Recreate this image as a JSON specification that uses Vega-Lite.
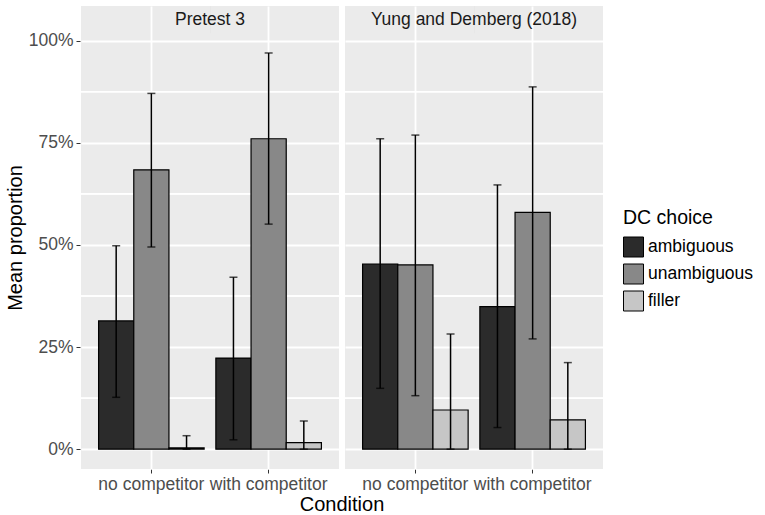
{
  "$schema": "https://vega.github.io/schema/vega-lite/v6.json",
  "description": "Mean proportion of DC choices by condition, Pretest 3 vs Yung and Demberg (2018).",
  "data": {
    "values": [
      {"study": "Pretest 3", "condition": "no competitor", "dc": "ambiguous", "mean": 0.314, "lower": 0.127, "upper": 0.498},
      {"study": "Pretest 3", "condition": "no competitor", "dc": "unambiguous", "mean": 0.684, "lower": 0.495, "upper": 0.871},
      {"study": "Pretest 3", "condition": "no competitor", "dc": "filler", "mean": 0.003, "lower": 0.0, "upper": 0.033},
      {"study": "Pretest 3", "condition": "with competitor", "dc": "ambiguous", "mean": 0.223, "lower": 0.023, "upper": 0.421},
      {"study": "Pretest 3", "condition": "with competitor", "dc": "unambiguous", "mean": 0.760, "lower": 0.551, "upper": 0.970},
      {"study": "Pretest 3", "condition": "with competitor", "dc": "filler", "mean": 0.016, "lower": 0.0, "upper": 0.069},
      {"study": "Yung and Demberg (2018)", "condition": "no competitor", "dc": "ambiguous", "mean": 0.453, "lower": 0.149, "upper": 0.760},
      {"study": "Yung and Demberg (2018)", "condition": "no competitor", "dc": "unambiguous", "mean": 0.451, "lower": 0.131, "upper": 0.769},
      {"study": "Yung and Demberg (2018)", "condition": "no competitor", "dc": "filler", "mean": 0.096, "lower": 0.0, "upper": 0.282},
      {"study": "Yung and Demberg (2018)", "condition": "with competitor", "dc": "ambiguous", "mean": 0.349, "lower": 0.053, "upper": 0.647},
      {"study": "Yung and Demberg (2018)", "condition": "with competitor", "dc": "unambiguous", "mean": 0.580, "lower": 0.270, "upper": 0.887},
      {"study": "Yung and Demberg (2018)", "condition": "with competitor", "dc": "filler", "mean": 0.072, "lower": 0.0, "upper": 0.212}
    ]
  },
  "padding": {"left": 5, "top": 6, "right": 5, "bottom": 0},
  "facet": {
    "column": {
      "field": "study",
      "type": "nominal",
      "sort": ["Pretest 3", "Yung and Demberg (2018)"],
      "header": {
        "title": "Condition",
        "titleOrient": "bottom",
        "titleFontSize": 20,
        "titleFontWeight": "normal",
        "titleColor": "#000000",
        "titlePadding": -8,
        "labels": false
      }
    }
  },
  "spacing": 4,
  "spec": {
    "width": 258,
    "height": 463,
    "encoding": {
      "x": {
        "field": "condition",
        "type": "nominal",
        "sort": ["no competitor", "with competitor"],
        "scale": {"paddingInner": 0.1, "paddingOuter": 0.15},
        "axis": {
          "title": null,
          "labelAngle": 0,
          "labelFontSize": 17.5,
          "labelColor": "#4d4d4d",
          "labelPadding": 2,
          "bandPosition": 0.5,
          "grid": true,
          "gridColor": "#ffffff",
          "gridWidth": 1.8,
          "domain": false,
          "tickColor": "#333333",
          "tickSize": 4,
          "tickWidth": 1
        }
      },
      "xOffset": {
        "field": "dc",
        "type": "nominal",
        "sort": ["ambiguous", "unambiguous", "filler"],
        "scale": {"paddingInner": 0, "paddingOuter": 0}
      }
    },
    "layer": [
      {"mark": {"type": "rule", "color": "#ffffff", "strokeWidth": 0.9}, "encoding": {"x": null, "xOffset": null, "y": {"datum": 0.125}}},
      {"mark": {"type": "rule", "color": "#ffffff", "strokeWidth": 0.9}, "encoding": {"x": null, "xOffset": null, "y": {"datum": 0.375}}},
      {"mark": {"type": "rule", "color": "#ffffff", "strokeWidth": 0.9}, "encoding": {"x": null, "xOffset": null, "y": {"datum": 0.625}}},
      {"mark": {"type": "rule", "color": "#ffffff", "strokeWidth": 0.9}, "encoding": {"x": null, "xOffset": null, "y": {"datum": 0.875}}},
      {
        "mark": {"type": "bar", "stroke": "#000000", "strokeWidth": 1.2},
        "encoding": {
          "y": {
            "field": "mean",
            "type": "quantitative",
            "scale": {"domain": [-0.0485, 1.085], "nice": false, "zero": false},
            "axis": {
              "title": "Mean proportion",
              "titleFontSize": 20,
              "titleFontWeight": "normal",
              "titleColor": "#000000",
              "titlePadding": 3,
              "values": [0, 0.25, 0.5, 0.75, 1],
              "format": ".0%",
              "labelFontSize": 17.5,
              "labelColor": "#4d4d4d",
              "labelPadding": 3,
              "grid": true,
              "gridColor": "#ffffff",
              "gridWidth": 1.8,
              "domain": false,
              "tickColor": "#333333",
              "tickSize": 4
            }
          },
          "y2": {"datum": 0},
          "color": {
            "field": "dc",
            "type": "nominal",
            "sort": ["ambiguous", "unambiguous", "filler"],
            "scale": {"domain": ["ambiguous", "unambiguous", "filler"], "range": ["#2b2b2b", "#888888", "#c6c6c6"]},
            "legend": {"title": "DC choice", "orient": "none", "legendX": 542, "legendY": 203}
          }
        }
      },
      {
        "mark": {"type": "rule", "color": "#000000", "strokeWidth": 1.5},
        "encoding": {
          "y": {"field": "lower", "type": "quantitative"},
          "y2": {"field": "upper"}
        }
      },
      {
        "mark": {"type": "tick", "color": "#000000", "size": 8, "thickness": 1.5},
        "encoding": {"y": {"field": "upper", "type": "quantitative"}}
      },
      {
        "mark": {"type": "tick", "color": "#000000", "size": 8, "thickness": 1.5},
        "encoding": {"y": {"field": "lower", "type": "quantitative"}}
      },
      {
        "transform": [{"filter": "datum.condition === 'no competitor' && datum.dc === 'ambiguous'"}],
        "mark": {"type": "bar", "color": "#d9d9d9"},
        "encoding": {
          "x": null,
          "xOffset": null,
          "y": {"datum": 1.0185},
          "y2": {"datum": 1.085}
        }
      },
      {
        "transform": [{"filter": "datum.condition === 'no competitor' && datum.dc === 'ambiguous'"}],
        "mark": {"type": "text", "fontSize": 17.5, "color": "#1a1a1a", "baseline": "middle"},
        "encoding": {
          "x": null,
          "xOffset": null,
          "y": {"datum": 1.05},
          "text": {"field": "study"}
        }
      }
    ]
  },
  "config": {
    "font": "Liberation Sans",
    "view": {"fill": "#ebebeb", "stroke": null},
    "legend": {
      "titleFontSize": 19.5,
      "titleFontWeight": "normal",
      "titleColor": "#000000",
      "labelFontSize": 17.5,
      "labelColor": "#000000",
      "symbolType": "square",
      "symbolSize": 400,
      "symbolStrokeColor": "#000000",
      "symbolStrokeWidth": 1,
      "symbolOpacity": 1,
      "rowPadding": 2,
      "titlePadding": 8
    }
  }
}
